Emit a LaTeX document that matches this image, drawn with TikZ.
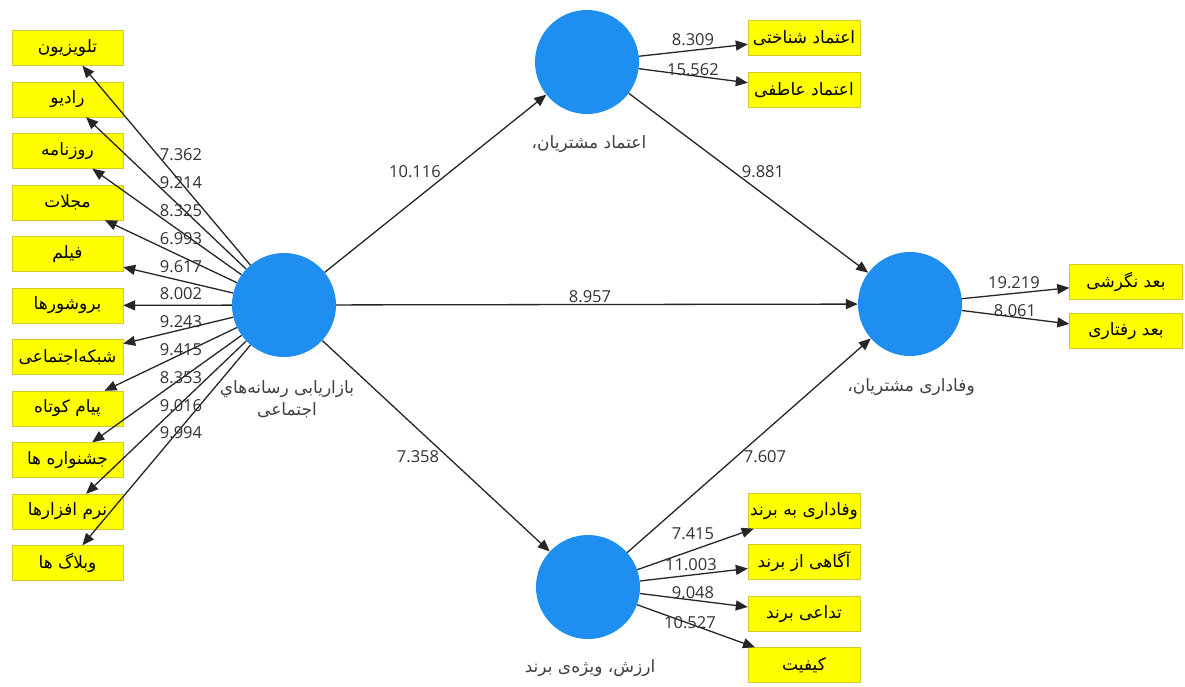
\documentclass[tikz,border=0pt]{standalone}
\usepackage{fontspec}
\setmainfont{Open Sans}
\newfontfamily\fa[Script=Arabic]{DejaVu Sans}
\TeXXeTstate=1
\usetikzlibrary{arrows.meta}
\definecolor{lvblue}{HTML}{1E8FF0}
\definecolor{indyel}{HTML}{FFFF00}
\begin{document}
\begin{tikzpicture}[x=1pt,y=-1pt,
  ind/.style={rectangle, fill=indyel, draw=yellow!80!black, line width=0.4pt, minimum width=111pt, minimum height=35pt, inner sep=0pt, font=\fa\fontsize{17}{20}\selectfont, text=black},
  lv/.style={circle, fill=lvblue, minimum size=104pt, inner sep=0pt},
  arr/.style={-{Triangle[length=12pt,width=10pt]}, line width=1.3pt, draw=black!85},
  num/.style={font=\fontsize{16.5}{19}\selectfont, text=black!80, inner sep=0pt},
  lab/.style={font=\fa\fontsize{17}{22}\selectfont, text=black!75, align=center, inner sep=0pt}]
\useasboundingbox (0,0) rectangle (1185,686);
\fill[white] (0,0) rectangle (1185,686);
% latent variables
\node[lv] (smm) at (284,305) {};
\node[lv] (trust) at (587,62) {};
\node[lv] (loyal) at (910,304) {};
\node[lv] (brand) at (588,587) {};
% labels of latent variables
\node[lab] (smmL) at (287,399) {\beginR بازاریابی رسانه‌هاي\endR\\\beginR اجتماعی\endR};
\node[lab] (trustL) at (589,144) {\beginR اعتماد مشتریان،\endR};
\node[lab] (loyalL) at (911,387) {\beginR وفاداری مشتریان،\endR};
\node[lab] (brandL) at (590,668) {\beginR ارزش، ویژه‌ی برند\endR};
% left indicators
\foreach \t [count=\i from 0] in {تلویزیون,رادیو,روزنامه,مجلات,فیلم,بروشورها,شبکه‌اجتماعی,پیام کوتاه,جشنواره ها,نرم افزارها,وبلاگ ها}
  \node[ind] (m\i) at (67.5,{48+51.5*\i}) {\beginR\t\endR};
\foreach \i in {0,...,10}
  \draw[arr] (smm) -- (m\i);
\foreach \v [count=\i from 0] in {7.362,9.214,8.325,6.993,9.617,8.002,9.243,9.415,8.353,9.016,9.994}
  \node[num] (n\i) at (181,{155+27.8*\i}) {\v};
% trust indicators
\node[ind, minimum width=112pt] (t1) at (804,38) {\beginR اعتماد شناختی\endR};
\node[ind, minimum width=112pt] (t2) at (804,90) {\beginR اعتماد عاطفی\endR};
\draw[arr] (trust) -- (t1);
\draw[arr] (trust) -- (t2);
\node[num] (nt1) at (693,40) {8.309};
\node[num] (nt2) at (693,70) {15.562};
% loyalty indicators
\node[ind, minimum width=113pt] (l1) at (1126,282) {\beginR بعد نگرشی\endR};
\node[ind, minimum width=113pt] (l2) at (1126,331) {\beginR بعد رفتاری\endR};
\draw[arr] (loyal) -- (l1);
\draw[arr] (loyal) -- (l2);
\node[num] (nl1) at (1014,283) {19.219};
\node[num] (nl2) at (1015,311) {8.061};
% brand indicators
\node[ind, minimum width=112pt] (b1) at (804,511) {\beginR وفاداری به برند\endR};
\node[ind, minimum width=112pt] (b2) at (804,562) {\beginR آگاهی از برند\endR};
\node[ind, minimum width=112pt] (b3) at (804,614) {\beginR تداعی برند\endR};
\node[ind, minimum width=112pt] (b4) at (804,665) {\beginR کیفیت\endR};
\foreach \i in {1,...,4}
  \draw[arr] (brand) -- (b\i);
\node[num] (nb1) at (693,534) {7.415};
\node[num] (nb2) at (691,565) {11.003};
\node[num] (nb3) at (693,593) {9.048};
\node[num] (nb4) at (690,623) {10.527};
% structural paths
\draw[arr] (smm) -- (trust);
\draw[arr] (smm) -- (loyal);
\draw[arr] (smm) -- (brand);
\draw[arr] (trust) -- (loyal);
\draw[arr] (brand) -- (loyal);
\node[num] (p1) at (415,172) {10.116};
\node[num] (p2) at (763,172) {9.881};
\node[num] (p3) at (590,297) {8.957};
\node[num] (p4) at (418,457) {7.358};
\node[num] (p5) at (765,457) {7.607};
\end{tikzpicture}
\end{document}
